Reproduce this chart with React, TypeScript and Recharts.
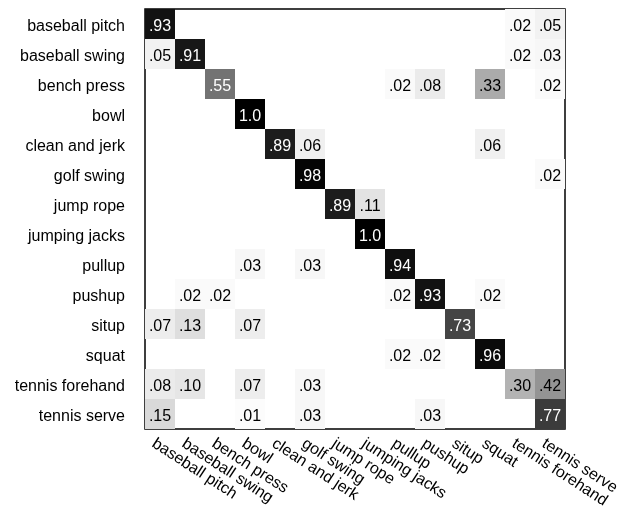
import React from 'react';
import { ScatterChart, Scatter, XAxis, YAxis, ReferenceArea } from 'recharts';

const categories: string[] = [
  'baseball pitch',
  'baseball swing',
  'bench press',
  'bowl',
  'clean and jerk',
  'golf swing',
  'jump rope',
  'jumping jacks',
  'pullup',
  'pushup',
  'situp',
  'squat',
  'tennis forehand',
  'tennis serve',
];

// rows = true class, columns = predicted class
const matrix: number[][] = [
  [0.93, 0, 0, 0, 0, 0, 0, 0, 0, 0, 0, 0, 0.02, 0.05],
  [0.05, 0.91, 0, 0, 0, 0, 0, 0, 0, 0, 0, 0, 0.02, 0.03],
  [0, 0, 0.55, 0, 0, 0, 0, 0, 0.02, 0.08, 0, 0.33, 0, 0.02],
  [0, 0, 0, 1.0, 0, 0, 0, 0, 0, 0, 0, 0, 0, 0],
  [0, 0, 0, 0, 0.89, 0.06, 0, 0, 0, 0, 0, 0.06, 0, 0],
  [0, 0, 0, 0, 0, 0.98, 0, 0, 0, 0, 0, 0, 0, 0.02],
  [0, 0, 0, 0, 0, 0, 0.89, 0.11, 0, 0, 0, 0, 0, 0],
  [0, 0, 0, 0, 0, 0, 0, 1.0, 0, 0, 0, 0, 0, 0],
  [0, 0, 0, 0.03, 0, 0.03, 0, 0, 0.94, 0, 0, 0, 0, 0],
  [0, 0.02, 0.02, 0, 0, 0, 0, 0, 0.02, 0.93, 0, 0.02, 0, 0],
  [0.07, 0.13, 0, 0.07, 0, 0, 0, 0, 0, 0, 0.73, 0, 0, 0],
  [0, 0, 0, 0, 0, 0, 0, 0, 0.02, 0.02, 0, 0.96, 0, 0],
  [0.08, 0.1, 0, 0.07, 0, 0.03, 0, 0, 0, 0, 0, 0, 0.3, 0.42],
  [0.15, 0, 0, 0.01, 0, 0.03, 0, 0, 0, 0.03, 0, 0, 0, 0.77],
];

const tickIndices: number[] = categories.map((_, i) => i);

const WIDTH = 613;
const HEIGHT = 508;
const MARGIN = { top: 1, right: 56, bottom: 0, left: 0 };
const Y_AXIS_WIDTH = 137;
const X_AXIS_HEIGHT = 87;
const N = categories.length;
const plotW = WIDTH - MARGIN.left - MARGIN.right - Y_AXIS_WIDTH;
const plotH = HEIGHT - MARGIN.top - MARGIN.bottom - X_AXIS_HEIGHT;
const cellW = plotW / N;
const cellH = plotH / N;

const FONT = '"Liberation Sans", Arial, Helvetica, sans-serif';

const cells = matrix.flatMap((row, i) =>
  row.map((v, j) => ({ x: j, y: i, v })).filter((d) => d.v > 0)
);

const fmt = (v: number) => (v >= 1 ? v.toFixed(1) : v.toFixed(2).slice(1));
const gray = (v: number) => {
  const g = Math.round(255 * (1 - v));
  return `rgb(${g},${g},${g})`;
};

const CellShape = (props: any) => {
  const { cx, cy, payload } = props;
  const v: number = payload.v;
  return (
    <g>
      <rect
        x={cx - cellW / 2}
        y={cy - cellH / 2}
        width={cellW}
        height={cellH}
        fill={gray(v)}
      />
      <text
        x={cx}
        y={cy + 6.7}
        textAnchor="middle"
        fontSize={16}
        fontFamily={FONT}
        fill={v >= 0.5 ? '#ffffff' : '#000000'}
      >
        {fmt(v)}
      </text>
    </g>
  );
};

const XTick = (props: any) => {
  const { x, y, payload } = props;
  const ax = x - 9;
  const ay = y + 17;
  return (
    <text
      x={ax}
      y={ay}
      transform={`rotate(33, ${ax}, ${ay})`}
      textAnchor="start"
      fontSize={16}
      fontFamily={FONT}
      fill="#000"
    >
      {categories[payload.value]}
    </text>
  );
};

const YTick = (props: any) => {
  const { x, y, payload } = props;
  return (
    <text
      x={x - 20}
      y={y + 6.5}
      textAnchor="end"
      fontSize={16}
      fontFamily={FONT}
      fill="#000"
    >
      {categories[payload.value]}
    </text>
  );
};

export default function App() {
  return (
    <div style={{ position: 'fixed', top: 8, left: 8, width: WIDTH, height: HEIGHT }}>
      <ScatterChart width={WIDTH} height={HEIGHT} margin={MARGIN}>
        <XAxis
          type="number"
          dataKey="x"
          domain={[-0.5, N - 0.5]}
          ticks={tickIndices}
          interval={0}
          tickLine={false}
          axisLine={false}
          tickSize={0}
          tickMargin={0}
          height={X_AXIS_HEIGHT}
          tick={<XTick />}
          allowDataOverflow
        />
        <YAxis
          type="number"
          dataKey="y"
          domain={[-0.5, N - 0.5]}
          ticks={tickIndices}
          interval={0}
          reversed
          tickLine={false}
          axisLine={false}
          tickSize={0}
          tickMargin={0}
          width={Y_AXIS_WIDTH}
          tick={<YTick />}
          allowDataOverflow
        />
        <Scatter data={cells} shape={<CellShape />} isAnimationActive={false} />
        <ReferenceArea
          x1={-0.5}
          x2={N - 0.5}
          y1={-0.5}
          y2={N - 0.5}
          fill="none"
          fillOpacity={0}
          stroke="#000"
          strokeWidth={1.5}
          ifOverflow="visible"
        />
      </ScatterChart>
    </div>
  );
}
